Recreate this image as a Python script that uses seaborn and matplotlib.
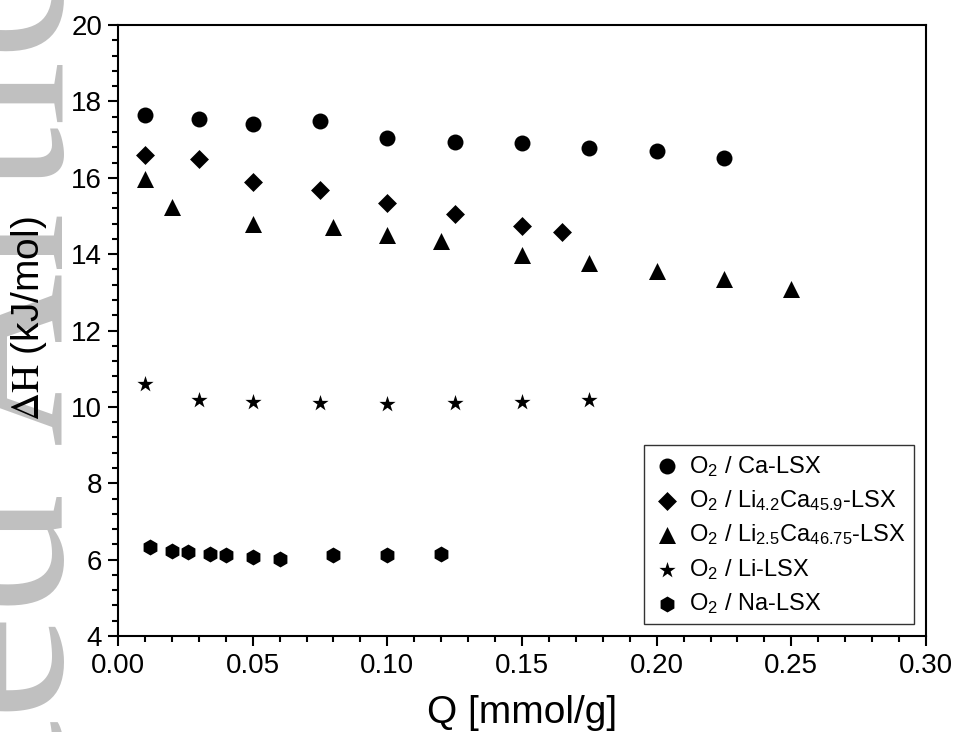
import numpy as np
import matplotlib
matplotlib.use('Agg')
import matplotlib.pyplot as plt
from matplotlib.ticker import MultipleLocator, AutoMinorLocator, FormatStrFormatter
import seaborn as sns

# Q [mmol/g] and heat of adsorption [kJ/mol] for each sample
ca_q = [0.010, 0.030, 0.050, 0.075, 0.100, 0.125, 0.150, 0.175, 0.200, 0.225]
ca_dh = [17.64, 17.55, 17.42, 17.48, 17.03, 16.94, 16.90, 16.78, 16.70, 16.51]

li42_q = [0.010, 0.030, 0.050, 0.075, 0.100, 0.125, 0.150, 0.165]
li42_dh = [16.59, 16.49, 15.90, 15.69, 15.34, 15.04, 14.73, 14.57]

li25_q = [0.010, 0.020, 0.050, 0.080, 0.100, 0.120, 0.150, 0.175, 0.200, 0.225, 0.250]
li25_dh = [15.96, 15.24, 14.79, 14.71, 14.50, 14.35, 13.97, 13.78, 13.56, 13.34, 13.10]

li_q = [0.010, 0.030, 0.050, 0.075, 0.100, 0.125, 0.150, 0.175]
li_dh = [10.60, 10.18, 10.13, 10.09, 10.07, 10.09, 10.12, 10.18]

na_q = [0.012, 0.020, 0.026, 0.034, 0.040, 0.050, 0.060, 0.080, 0.100, 0.120]
na_dh = [6.34, 6.23, 6.19, 6.16, 6.13, 6.08, 6.03, 6.11, 6.12, 6.14]

labels = [r'O$_2$ / Ca-LSX',
          r'O$_2$ / Li$_{4.2}$Ca$_{45.9}$-LSX',
          r'O$_2$ / Li$_{2.5}$Ca$_{46.75}$-LSX',
          r'O$_2$ / Li-LSX',
          r'O$_2$ / Na-LSX']

sns.set_style('ticks')
plt.rcParams['font.family'] = ['Liberation Sans', 'DejaVu Sans']
plt.rcParams['mathtext.fontset'] = 'stix'
plt.rcParams['mathtext.default'] = 'regular'
for key in ['text.color', 'axes.labelcolor', 'xtick.color', 'ytick.color', 'axes.edgecolor']:
    plt.rcParams[key] = 'black'

fig = plt.figure(figsize=(9.57, 7.32), dpi=100)
ax = fig.add_axes([0.1233, 0.1311, 0.8443, 0.8347])

# journal watermark down the left edge, behind everything
fig.text(0.066, 0.194, 'Accepted Article', rotation=90, rotation_mode='anchor',
         ha='center', va='baseline', fontsize=173, family='Liberation Serif',
         color='#c0c0c0', zorder=-5)

series = [(ca_q, ca_dh, 'o', 132), (li42_q, li42_dh, 'D', 93),
          (li25_q, li25_dh, '^', 150), (li_q, li_dh, '*', 150),
          (na_q, na_dh, 'h', 132)]
for (q, dh, m, s), lab in zip(series, labels):
    sns.scatterplot(x=q, y=dh, marker=m, s=s, color='black', linewidth=0,
                    label=lab, ax=ax)

ax.set_xlim(0, 0.30)
ax.set_ylim(4, 20)
ax.xaxis.set_major_locator(MultipleLocator(0.05))
ax.yaxis.set_major_locator(MultipleLocator(2))
ax.xaxis.set_minor_locator(AutoMinorLocator(5))
ax.yaxis.set_minor_locator(AutoMinorLocator(5))
ax.xaxis.set_major_formatter(FormatStrFormatter('%.2f'))

for sp in ax.spines.values():
    sp.set_linewidth(1.5)
ax.tick_params(which='major', length=7.5, width=1.5, labelsize=20)
ax.tick_params(which='minor', length=4, width=1.5)
ax.tick_params(axis='x', which='major', pad=5)
ax.tick_params(axis='y', which='major', pad=4)

ax.set_xlabel('Q [mmol/g]', fontsize=28, labelpad=11)
ax.set_ylabel(r'$\mathrm{\Delta H}$ (kJ/mol)', fontsize=28)
ax.yaxis.set_label_coords(-0.085, 0.52)

leg = ax.legend(loc='lower right', fontsize=17, frameon=True, fancybox=False,
                edgecolor='black', borderaxespad=0.5, handletextpad=0.35,
                labelspacing=0.4, borderpad=0.35, handlelength=1.2)
leg.get_frame().set_linewidth(1.0)

fig.savefig('out.png', dpi=100)
